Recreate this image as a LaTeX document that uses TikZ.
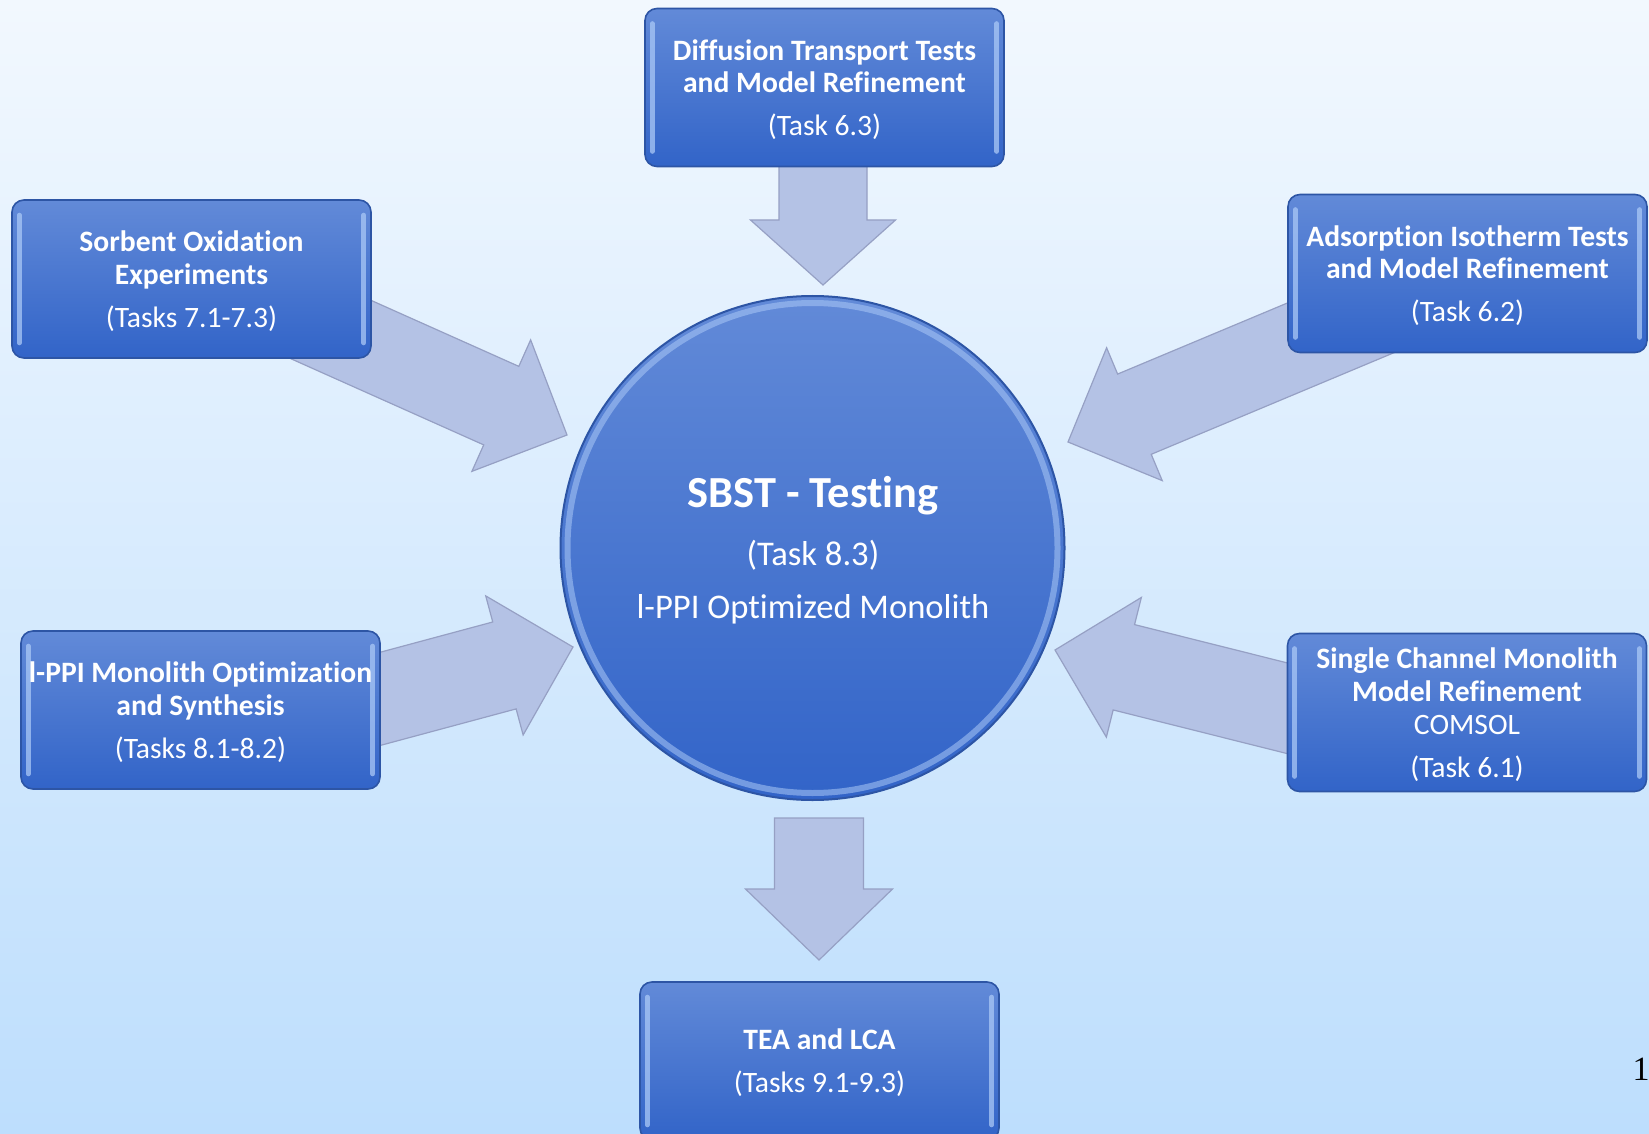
\documentclass[tikz,border=0pt]{standalone}
\usepackage{fontspec}
\setmainfont{Carlito}[Ligatures={NoCommon}]
\newfontfamily\pagenumfont{Liberation Serif}
\usetikzlibrary{calc}
\definecolor{bgtop}{RGB}{242,248,254}
\definecolor{bgbot}{RGB}{189,222,253}
\definecolor{boxtop}{RGB}{98,138,216}
\definecolor{boxbot}{RGB}{50,100,200}
\definecolor{boxline}{RGB}{45,85,165}
\definecolor{hilite}{RGB}{170,200,246}
\definecolor{arrfill}{RGB}{180,194,229}
\definecolor{arrline}{RGB}{150,160,196}
\tikzset{
  taskbox/.style={rounded corners=6pt, minimum width=179.5pt, minimum height=79pt,
    top color=boxtop, bottom color=boxbot, draw=boxline, line width=0.8pt, inner sep=0pt},
  boxtext/.style={text=white, align=center, inner sep=0pt,
    font=\fontsize{14.8pt}{16.4pt}\selectfont},
  hubnode/.style={circle, minimum size=252pt, inner sep=0pt,
    top color=boxtop, bottom color=boxbot, draw=boxline, line width=1pt},
  hubtext/.style={text=white, anchor=base, inner sep=0pt},
  blockarr/.style={fill=arrfill, draw=arrline, line width=0.6pt, line join=miter},
  hl/.style={line width=2.5pt, draw=hilite, line cap=round, opacity=0.75},
}
\newcommand{\blockarrow}[5]{%
  \coordinate (ba-H) at ($(#2)!#5!(#1)$);
  \path[blockarr] ($(#1)!#3!90:(#2)$) -- ($(ba-H)!#3!90:(#2)$) -- ($(ba-H)!#4!90:(#2)$)
    -- (#2) -- ($(ba-H)!#4!-90:(#2)$) -- ($(ba-H)!#3!-90:(#2)$) -- ($(#1)!#3!-90:(#2)$) -- cycle;
}
\begin{document}
\begin{tikzpicture}[x=0.5pt,y=-0.5pt]
\useasboundingbox (0,0) rectangle (1649,1134);
\clip (0,0) rectangle (1649,1134);
\shade[top color=bgtop, bottom color=bgbot] (0,0) rectangle (1649,1134);

% arrow end points
\coordinate (tDiff) at (823,150);  \coordinate (pDiff) at (823,285);
\coordinate (tTea)  at (819,818);  \coordinate (pTea)  at (819,960);
\coordinate (tSorb) at (285,309);  \coordinate (pSorb) at (567,435);
\coordinate (tAds)  at (1400,303); \coordinate (pAds)  at (1068,442);
\coordinate (tIppi) at (283,725);  \coordinate (pIppi) at (573,647);
\coordinate (tScm)  at (1346,723); \coordinate (pScm)  at (1055,650);

\blockarrow{tDiff}{pDiff}{22pt}{36.25pt}{32.5pt}
\blockarrow{tTea}{pTea}{22.25pt}{36.75pt}{35.5pt}
\blockarrow{tSorb}{pSorb}{21.5pt}{36pt}{36pt}
\blockarrow{tAds}{pAds}{21.75pt}{36pt}{36pt}
\blockarrow{tIppi}{pIppi}{22.5pt}{36pt}{35.5pt}
\blockarrow{tScm}{pScm}{22pt}{36pt}{35.5pt}

% boxes
\node[taskbox] (diff) at (824.5,87.5) {};
\node[taskbox] (sorb) at (191.5,279) {};
\node[taskbox] (ads)  at (1467.5,273.5) {};
\node[taskbox] (ippi) at (200.5,710) {};
\node[taskbox] (scm)  at (1467,712.5) {};
\node[taskbox] (tea)  at (819.5,1061) {};
\foreach \b in {diff,sorb,ads,ippi,scm,tea}{
  \draw[hl] ([shift={(8,16)}]\b.north west) -- ([shift={(8,-16)}]\b.south west);
  \draw[hl] ([shift={(-8,16)}]\b.north east) -- ([shift={(-8,-16)}]\b.south east);
}

% hub
\node[hubnode] (hub) at (812.5,548) {};
\draw[draw=hilite, opacity=0.55, line width=3pt] (hub.center) circle[radius=245];

% texts
\node[boxtext] (diffT) at ([yshift=-1pt]diff.center) {\textbf{Diffusion Transport Tests}\\\textbf{and Model Refinement}\\[5pt](Task 6.3)};
\node[boxtext] (sorbT) at ([yshift=-1pt]sorb.center) {\textbf{Sorbent Oxidation}\\\textbf{Experiments}\\[5pt](Tasks 7.1-7.3)};
\node[boxtext] (adsT)  at ([yshift=-1pt]ads.center)  {\textbf{Adsorption Isotherm Tests}\\\textbf{and Model Refinement}\\[5pt](Task 6.2)};
\node[boxtext] (ippiT) at ([yshift=-1pt]ippi.center) {\textbf{l-PPI Monolith Optimization}\\\textbf{and Synthesis}\\[5pt](Tasks 8.1-8.2)};
\node[boxtext] (scmT)  at ([yshift=-1pt]scm.center)  {\textbf{Single Channel Monolith}\\\textbf{Model Refinement}\\COMSOL\\[5pt](Task 6.1)};
\node[boxtext] (teaT)  at ([yshift=-1pt]tea.center)  {\textbf{TEA and LCA}\\[5pt](Tasks 9.1-9.3)};

\node[hubtext, font=\fontsize{22.2pt}{26pt}\selectfont\bfseries] (hubA) at (813,507) {SBST - Testing};
\node[hubtext, font=\fontsize{17.3pt}{20pt}\selectfont] (hubB) at (813,565) {(Task 8.3)};
\node[hubtext, font=\fontsize{17.3pt}{20pt}\selectfont] (hubC) at (813,618) {l-PPI Optimized Monolith};

\node[anchor=base, inner sep=0pt, font=\pagenumfont\fontsize{17pt}{20pt}\selectfont] (pnum) at (1641,1080) {1};
\end{tikzpicture}
\end{document}
